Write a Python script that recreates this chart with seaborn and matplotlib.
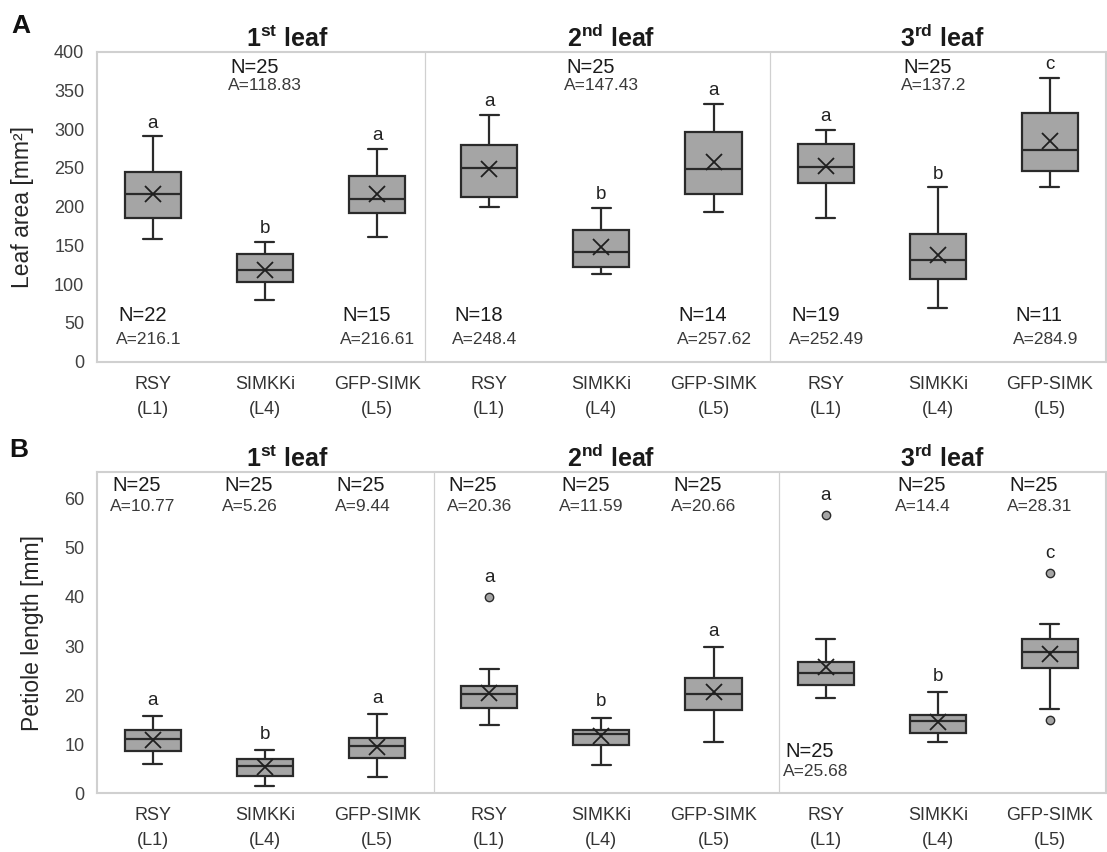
import numpy as np
import pandas as pd
import matplotlib
matplotlib.use("Agg")
import matplotlib.pyplot as plt
import matplotlib.transforms as mtransforms
import seaborn as sns

#Groups on the x axis
leaves = ["1st", "2nd", "3rd"]
leaf_titles = [r"$\mathbf{1^{st}}$ leaf", r"$\mathbf{2^{nd}}$ leaf", r"$\mathbf{3^{rd}}$ leaf"]
lines = ["RSY\n(L1)", "SIMKKi\n(L4)", "GFP-SIMK\n(L5)"]

#Panel A - leaf area [mm2], box summary
area_low = [158, 79.8, 160.5, 199.6, 113.7, 192.6, 186, 69.4, 225]
area_q1 = [186, 102.8, 191.8, 212, 122.3, 216.5, 231, 106.7, 246]
area_med = [217, 118.9, 210, 249.5, 141, 248.6, 251, 131, 273]
area_q3 = [245, 138.4, 239, 279.4, 170, 297, 281, 165, 321]
area_high = [290.7, 154.5, 274.6, 318.4, 198.3, 333, 299, 225, 366.6]
area_mean = [216.1, 118.83, 216.61, 248.4, 147.43, 257.62, 252.49, 137.2, 284.9]
area_n = [22, 25, 15, 18, 25, 14, 19, 25, 11]
area_letters = ["a", "b", "a", "a", "b", "a", "a", "b", "c"]
area_label_at = ["bottom", "top", "bottom", "bottom", "top", "bottom", "bottom", "top", "bottom"]
area_out_box = []
area_out_val = []

#Panel B - petiole length [mm]
pet_low = [5.9, 1.4, 3.3, 13.8, 5.7, 10.5, 19.45, 10.5, 17.1]
pet_q1 = [8.6, 3.5, 7.2, 17.3, 9.85, 16.9, 22.0, 12.25, 25.6]
pet_med = [11.0, 5.5, 9.6, 20.2, 12.0, 20.2, 24.5, 14.7, 28.8]
pet_q3 = [12.9, 6.9, 11.3, 21.9, 12.9, 23.5, 26.7, 15.9, 31.5]
pet_high = [15.7, 8.75, 16.1, 25.35, 15.4, 29.8, 31.5, 20.6, 34.4]
pet_mean = [10.77, 5.26, 9.44, 20.36, 11.59, 20.66, 25.68, 14.4, 28.31]
pet_n = [25, 25, 25, 25, 25, 25, 25, 25, 25]
pet_letters = ["a", "b", "a", "a", "b", "a", "a", "b", "c"]
pet_label_at = ["top", "top", "top", "top", "top", "top", "bottom", "top", "top"]
pet_out_box = [3, 6, 8, 8]
pet_out_val = [40.0, 56.7, 44.9, 14.9]

slots = [leaf + " " + line for leaf in leaves for line in lines]

sns.set_style("white")
plt.rcParams["font.family"] = ["Liberation Sans", "DejaVu Sans"]
plt.rcParams["mathtext.fontset"] = "custom"
plt.rcParams["mathtext.rm"] = "Liberation Sans"
plt.rcParams["mathtext.bf"] = "Liberation Sans:bold"

BOX = "#a5a5a5"
EDGE = "#2a2a2a"
FRAME = "#d0d0d0"


def draw_panel(ax, low, q1, med, q3, high, mean, n, letters, label_at,
               out_box, out_val, ymax, ytop, ystep, ylabel, seps, ypos, xoff, letter_pad):
    #boxes from the five numbers (whiskers = min/max)
    box_df = pd.DataFrame({
        "slot": np.repeat(slots, 5),
        "value": np.column_stack([low, q1, med, q3, high]).ravel(),
    })
    sns.boxplot(data=box_df, x="slot", y="value", order=slots, ax=ax,
                width=0.5, whis=(0, 100), color=BOX, saturation=1,
                linecolor=EDGE, linewidth=1.6, fliersize=0, capwidths=0.17)

    #outliers
    if len(out_val) > 0:
        out_df = pd.DataFrame({"slot": [slots[i] for i in out_box], "value": out_val})
        sns.stripplot(data=out_df, x="slot", y="value", order=slots, ax=ax,
                      jitter=False, color=BOX, edgecolor=EDGE, linewidth=1,
                      size=6, zorder=4)

    #mean markers
    mean_df = pd.DataFrame({"slot": slots, "value": mean})
    sns.pointplot(data=mean_df, x="slot", y="value", order=slots, ax=ax,
                  errorbar=None, color="#1f1f1f", marker="x", linestyle="none",
                  markersize=12, markeredgewidth=1.3, zorder=5)

    ax.set_xlim(-0.5, 8.5)
    ax.set_ylim(0, ymax)
    ax.set_yticks(np.arange(0, ytop + 1, ystep))
    ax.set_xticks(range(9))
    ax.set_xticklabels(lines * 3, fontsize=13, color="#333333", linespacing=1.65)
    ax.tick_params(axis="x", length=0, pad=10)
    ax.tick_params(axis="y", length=0, pad=9, labelsize=13, labelcolor="#404040")
    ax.set_xlabel("")
    ax.set_ylabel(ylabel, fontsize=16.5, color="#262626")
    for s in ax.spines.values():
        s.set_color(FRAME)
        s.set_linewidth(1.5)
    for x in seps:
        ax.axvline(x, color=FRAME, linewidth=0.9, zorder=0)

    blend = mtransforms.blended_transform_factory(ax.transData, ax.transAxes)

    #N= / A= labels
    for i in range(9):
        yn, ya = ypos[label_at[i]]
        ax.text(i + xoff, yn, "N=" + str(n[i]), transform=blend, ha="left",
                va="center", fontsize=14.5, color="#1a1a1a")
        ax.text(i + xoff - 0.02, ya, "A=" + format(mean[i], "g"), transform=blend,
                ha="left", va="center", fontsize=12.5, color="#3a3a3a")

    #significance letters
    for i in range(9):
        top = high[i]
        extra = 0
        for b, v in zip(out_box, out_val):
            if b == i and v > top:
                top = v
                extra = 2.5
        ax.annotate(letters[i], (i, top), xytext=(0, letter_pad + extra),
                    textcoords="offset points", ha="center", va="center",
                    fontsize=13.5, color="#222222")

    #leaf titles
    for k, tx in enumerate([1.2, 4.09, 7.04]):
        ax.text(tx, 1.0, leaf_titles[k], transform=blend, ha="center",
                va="bottom", fontsize=18, fontweight="bold", color="#1a1a1a")


fig = plt.figure(figsize=(11.07, 8.52), dpi=100)
ax_a = fig.add_axes([0.0874, 0.5755, 0.9117, 0.3638])
ax_b = fig.add_axes([0.0874, 0.0692, 0.9117, 0.3768])

draw_panel(ax_a, area_low, area_q1, area_med, area_q3, area_high, area_mean,
           area_n, area_letters, area_label_at, area_out_box, area_out_val,
           400, 400, 50, "Leaf area [mm²]", [2.43, 5.5],
           {"top": (0.95, 0.89), "bottom": (0.1475, 0.07)}, -0.31, 9.5)

draw_panel(ax_b, pet_low, pet_q1, pet_med, pet_q3, pet_high, pet_mean,
           pet_n, pet_letters, pet_label_at, pet_out_box, pet_out_val,
           65.5, 60, 10, "Petiole length [mm]", [2.51, 5.58],
           {"top": (0.959, 0.893), "bottom": (0.128, 0.066)}, -0.36, 11.5)

ax_a.yaxis.set_label_coords(-0.062, 0.5)
ax_b.yaxis.set_label_coords(-0.052, 0.5)

fig.text(0.010, 0.961, "A", fontsize=19, fontweight="bold", color="#111111", va="baseline")
fig.text(0.008, 0.4636, "B", fontsize=19, fontweight="bold", color="#111111", va="baseline")

fig.savefig("out.png", dpi=100)
